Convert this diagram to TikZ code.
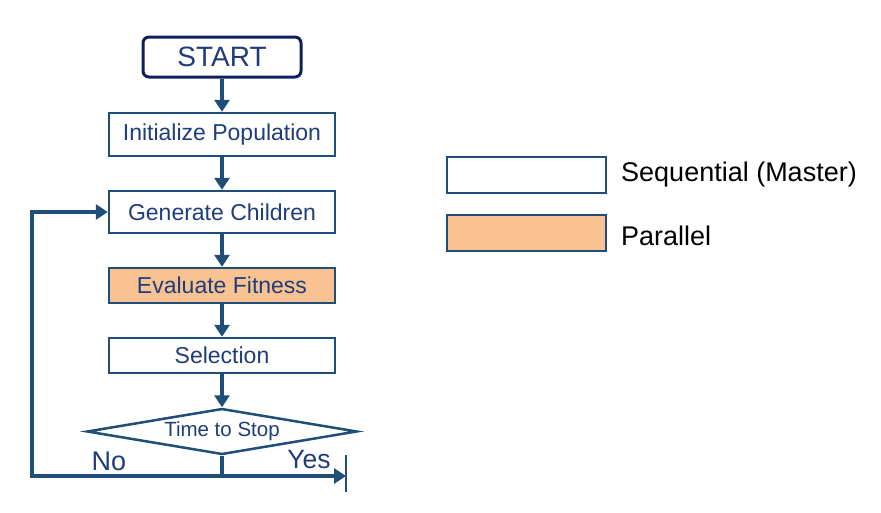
\documentclass[tikz,border=0pt]{standalone}
\usepackage{fontspec}
\setmainfont{Liberation Sans}
\usetikzlibrary{shapes.geometric,arrows.meta}
\definecolor{flow}{RGB}{31,78,121}
\definecolor{navy}{RGB}{14,32,92}
\definecolor{txtblue}{RGB}{31,61,122}
\definecolor{par}{RGB}{249,194,146}
\tikzset{
  procbox/.style={draw=flow, line width=2.5pt, fill=white, minimum width=226pt, minimum height=#1, inner sep=0pt, text=txtblue, font=\fontsize{23}{27}\selectfont},
  procbox/.default=40pt,
  conn/.style={draw=flow, line width=4.5pt, -{Triangle[width=15pt,length=12pt]}},
  plain/.style={draw=flow, line width=4.5pt},
}
\begin{document}
\begin{tikzpicture}[x=1pt,y=-1pt]
\useasboundingbox (0,0) rectangle (881,512);
\node[draw=navy, line width=3pt, rounded corners=6pt, fill=white, minimum width=158pt, minimum height=40pt, inner sep=0pt, text=txtblue, font=\fontsize{28}{32}\selectfont] (start) at (222,57) {START};
\node[procbox=43pt] (init) at (222,134.5) {Initialize Population};
\node[procbox=42pt] (gen) at (222,212) {Generate Children};
\node[procbox=35pt, fill=par] (eval) at (222,285.5) {Evaluate Fitness};
\node[procbox=35pt] (sel) at (222,355.5) {Selection};
\node[diamond, draw=flow, line width=2.5pt, fill=white, minimum width=270pt, minimum height=46pt, inner sep=0pt, aspect=5.85, text=txtblue, font=\fontsize{20.5}{24}\selectfont] (stop) at (222,431.5) {Time to Stop};
\draw[conn] (start.south) -- (init.north);
\draw[conn] (init.south) -- (gen.north);
\draw[conn] (gen.south) -- (eval.north);
\draw[conn] (eval.south) -- (sel.north);
\draw[conn] (sel.south) -- (stop.north);
\coordinate (split) at (222,476);
\coordinate (corner1) at (32,476);
\coordinate (corner2) at (32,212);
\coordinate (endx) at (346,476);
\coordinate (bartop) at (346,455);
\coordinate (barbot) at (346,492);
\draw[plain] (stop.south) -- (split);
\draw[conn, line join=miter] (split) -- (corner1) -- (corner2) -- (gen.west);
\draw[conn] (split) -- (endx);
\draw[draw=flow, line width=2pt] (bartop) -- (barbot);
\node[text=txtblue, font=\fontsize{27}{31}\selectfont] (no) at (109,461) {No};
\node[text=txtblue, font=\fontsize{26.5}{30}\selectfont] (yes) at (309,460) {Yes};
% legend
\node[draw=flow, line width=2.5pt, fill=white, minimum width=159pt, minimum height=36pt, inner sep=0pt] (lseq) at (526.5,175) {};
\node[draw=flow, line width=2.5pt, fill=par, minimum width=159pt, minimum height=36pt, inner sep=0pt] (lpar) at (526.5,233) {};
\node[anchor=west, font=\fontsize{27}{31}\selectfont, inner sep=0pt] (tseq) at (621,175) {Sequential (Master)};
\node[anchor=west, font=\fontsize{27}{31}\selectfont, inner sep=0pt] (tpar) at (621,236) {Parallel};
\end{tikzpicture}
\end{document}
